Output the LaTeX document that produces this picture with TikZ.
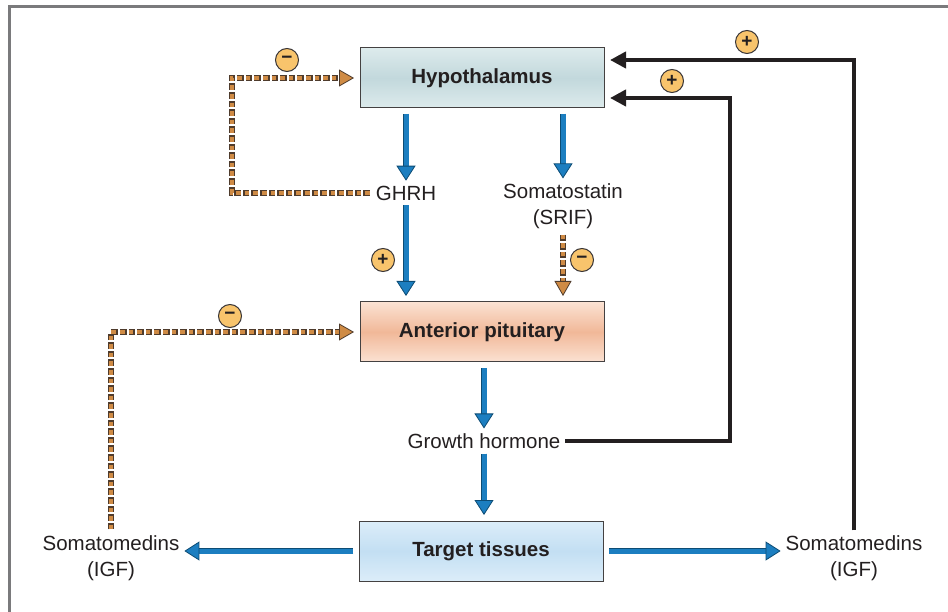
\documentclass[tikz,border=0pt]{standalone}
\usepackage{fontspec}
\setmainfont{Liberation Sans}
\usetikzlibrary{arrows.meta,positioning}
\definecolor{blueA}{HTML}{1C7EC0}
\definecolor{blueD}{HTML}{0D4C74}
\definecolor{brownA}{HTML}{CF8B45}
\definecolor{brownD}{HTML}{4E3B2C}
\definecolor{signA}{HTML}{F8C46C}
\definecolor{txt}{HTML}{231F20}
\definecolor{framec}{HTML}{7A7A7C}
\definecolor{hypoM}{HTML}{C2D8DC}
\definecolor{hypoL}{HTML}{DDEBEC}
\definecolor{apM}{HTML}{F1B898}
\definecolor{apL}{HTML}{FBE2D3}
\definecolor{tgM}{HTML}{C3DFF3}
\definecolor{tgL}{HTML}{DCEDF9}

\tikzset{
  box/.style={draw=txt!85,line width=1pt,minimum width=244pt,minimum height=60pt,
    outer sep=6pt,text=txt,font=\bfseries\fontsize{20.5}{24}\selectfont},
  lbl/.style={text=txt,align=center,inner sep=3pt,outer sep=2pt,
    font=\fontsize{20.5}{26}\selectfont},
  blu/.style={line width=5pt,blueA,
    preaction={draw=blueD,line width=6.6pt,-,shorten >=9pt},
    -{Triangle[length=15pt,width=19pt,fill=blueA,color=blueD,line width=0.8pt]}},
  fb/.style={line width=4pt,brownA,dash pattern=on 4.6pt off 4pt,dash phase=7.5pt,
    preaction={draw=brownD,line width=6.4pt,-,dash pattern=on 6.6pt off 2pt,shorten >=8pt},
    -{Triangle[length=15pt,width=17pt,fill=brownA,color=brownD,line width=0.8pt]}},
  blk/.style={line width=4pt,txt,-{Triangle[length=16pt,width=16pt]}},
  sgn/.style={circle,draw=txt!90,line width=1pt,fill=signA,minimum size=23pt,inner sep=0pt,
    text=txt,font=\bfseries\fontsize{19}{19}\selectfont},
}

\begin{document}
\begin{tikzpicture}[x=1pt,y=-1pt]
  \useasboundingbox (0,0) rectangle (948,612);
  % frame
  \draw[framec,line width=3pt] (9,612) -- (9,7) -- (948,7);
  % boxes
  \node (hypo) [box,top color=hypoL,bottom color=hypoL,middle color=hypoM] at (482,78) {Hypothalamus};
  \node (ap) [box,top color=apL,bottom color=apL,middle color=apM] at (482,332) {Anterior pituitary};
  \node (target) [box,top color=tgL,bottom color=tgL,middle color=tgM] at (481,551) {Target tissues};
  % labels
  \node (ghrh) [lbl] at (406,193) {GHRH};
  \node (srif) [lbl] at (563,206) {Somatostatin\\(SRIF)};
  \node (gh) [lbl] at (484,441) {Growth hormone};
  \node (smL) [lbl] at (111,558) {Somatomedins\\(IGF)};
  \node (smR) [lbl] at (854,558) {Somatomedins\\(IGF)};
  % signs
  \node (s1) [sgn] at (287,60) {−};
  \node (s2) [sgn] at (383,260) {+};
  \node (s3) [sgn] at (582,260) {−};
  \node (s4) [sgn] at (230,316) {−};
  \node (s5) [sgn] at (672,81) {+};
  \node (s6) [sgn] at (747,42) {+};
  % blue arrows
  \draw[blu] (hypo.south -| ghrh) -- (ghrh.north);
  \draw[blu] (hypo.south -| srif) -- (srif.north);
  \draw[blu] (ghrh.south) -- (ap.north -| ghrh);
  \draw[blu] (ap.south -| gh) -- (gh.north);
  \draw[blu] (gh.south) -- (target.north -| gh);
  \draw[blu] (target.west) -- (target.west -| smL.east);
  \draw[blu] (target.east) -- (target.east -| smR.west);
  % inhibition (dashed)
  \draw[fb] (ghrh.west) -| ([xshift=-122pt]hypo.west) |- (hypo.west);
  \draw[fb] (srif.south) -- (ap.north -| srif);
  \draw[fb] (smL.north) |- (ap.west);
  % feedback (black)
  \draw[blk] (gh.east) -| ([xshift=120pt,yshift=-20pt]hypo.east) -- ([yshift=-20pt]hypo.east);
  \draw[blk] (smR.north) |- ([yshift=18pt]hypo.east);
\end{tikzpicture}
\end{document}
